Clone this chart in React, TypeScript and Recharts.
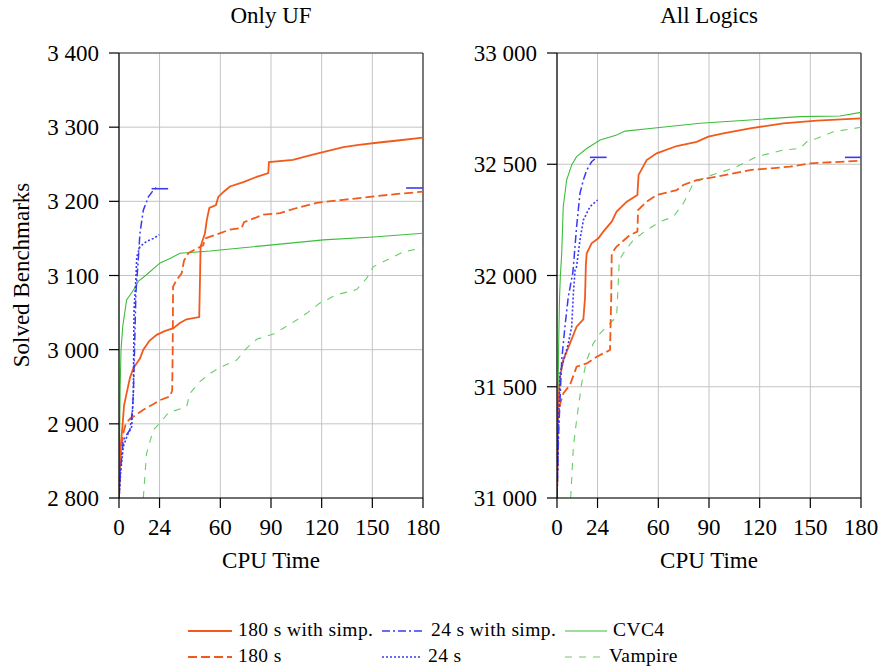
import React from 'react';
import { LineChart, Line, XAxis, YAxis, CartesianGrid, ReferenceLine } from 'recharts';

type Pt = [number, number];

// x ticks shared by both panels
const xTicks = [0, 24, 60, 90, 120, 150, 180];
const ufTicks = [2800, 2900, 3000, 3100, 3200, 3300, 3400];
const allTicks = [31000, 31500, 32000, 32500, 33000];

// ---- Only UF ----
const ufSimp180: Pt[] = [[0, 2800], [1, 2870], [2, 2895], [3, 2925], [4.5, 2941], [6.5, 2962], [8.5, 2975], [10, 2980], [12.4, 2988], [14.4, 3000], [18, 3012], [22.3, 3020], [27, 3025], [32.2, 3029], [36, 3036], [40, 3041], [47.5, 3044], [48, 3100], [48.3, 3139], [50.9, 3157], [52, 3175], [53.5, 3191], [57.4, 3195], [58.8, 3206], [62, 3213], [65.7, 3220], [73.6, 3226], [81.5, 3233], [88.4, 3238], [88.8, 3253], [103, 3256], [113, 3262], [122, 3267], [132.8, 3273], [142, 3276], [152.6, 3279], [165, 3282], [180, 3286]];
const uf180: Pt[] = [[0, 2800], [1, 2860], [2.5, 2887], [4, 2900], [6.5, 2907], [10, 2912], [14.4, 2919], [20, 2926], [24.3, 2932], [30.2, 2937], [31.5, 2945], [31.8, 3000], [32, 3085], [34.1, 3094], [37.1, 3103], [38.5, 3120], [41, 3130], [49.9, 3141], [51, 3150], [57.4, 3155], [65.7, 3162], [72.6, 3164], [74, 3172], [77.6, 3175], [85.5, 3182], [95.3, 3184], [105.2, 3191], [117, 3198], [132.8, 3202], [152.6, 3207], [165, 3210], [180, 3213]];
const ufSimp24: Pt[] = [[0, 2800], [1, 2840], [2.5, 2878], [4.5, 2885], [6.5, 2892], [8, 2920], [8.5, 2941], [9.2, 3000], [10, 3076], [11.4, 3121], [12.4, 3157], [14.4, 3188], [17.4, 3206], [20.3, 3215], [22.3, 3219]];
const uf24: Pt[] = [[0, 2800], [1, 2835], [2.5, 2869], [5, 2885], [7.5, 2896], [8.5, 2941], [8.9, 3053], [10, 3094], [10.5, 3125], [12.4, 3139], [16.3, 3146], [20.3, 3150], [23.9, 3155]];
const ufCvc4: Pt[] = [[0, 2800], [0.3, 2870], [0.7, 2950], [1.2, 3000], [2.2, 3031], [4.5, 3067], [8.5, 3080], [11.4, 3092], [16.3, 3101], [24.3, 3117], [30.2, 3123], [36.1, 3130], [53.9, 3133], [89.4, 3141], [121, 3148], [150.6, 3152], [180, 3157]];
const ufVampire: Pt[] = [[14.4, 2800], [16.3, 2860], [20.3, 2892], [24.3, 2901], [29.2, 2915], [40, 2923], [42, 2941], [47.9, 2957], [53.9, 2968], [59.8, 2976], [69.7, 2986], [75.6, 3002], [81.5, 3014], [91.4, 3021], [97.3, 3029], [105.2, 3040], [111.1, 3049], [119, 3063], [128.9, 3074], [140.7, 3081], [146.6, 3096], [150.6, 3112], [156, 3118], [162.5, 3125], [168.4, 3132], [180, 3137]];
const ufSimp24Mark: Pt[] = [[19.3, 3217], [29.1, 3217]];
const ufSimp24Final: Pt[] = [[170, 3218], [180, 3218]];

// ---- All Logics ----
const allSimp180: Pt[] = [[0, 31000], [0.3, 31200], [0.6, 31395], [1.8, 31545], [3.7, 31620], [7.7, 31695], [11.6, 31770], [15.6, 31803], [16.6, 31900], [17.1, 32050], [17.6, 32100], [20.5, 32145], [24.5, 32167], [27.4, 32197], [32.4, 32242], [35.3, 32287], [41.3, 32332], [47.6, 32362], [48.3, 32452], [53.1, 32519], [59, 32549], [70.9, 32582], [82.7, 32601], [89.6, 32624], [98.5, 32639], [114.3, 32661], [134, 32684], [153.8, 32696], [180, 32706]];
const all180: Pt[] = [[0, 31000], [0.4, 31200], [0.8, 31395], [3.7, 31470], [7.7, 31508], [11.6, 31590], [17.6, 31605], [23.5, 31635], [31.4, 31665], [32.1, 31900], [32.4, 32100], [35.3, 32130], [43.2, 32182], [47.6, 32197], [48, 32294], [53.1, 32332], [59, 32362], [70.9, 32384], [74.8, 32407], [82.7, 32429], [94.5, 32444], [114.3, 32474], [138, 32489], [149.8, 32504], [180, 32516]];
const allSimp24: Pt[] = [[0, 31000], [1, 31300], [2.8, 31620], [4.7, 31770], [6.7, 31905], [9.3, 32010], [9.7, 32040], [11.6, 32219], [13.6, 32369], [15.6, 32429], [17.6, 32474], [20.5, 32511], [23.5, 32531]];
const all24: Pt[] = [[0, 31000], [0.8, 31300], [1.8, 31560], [6.7, 31695], [8.7, 31770], [9.7, 31920], [10.7, 32025], [11.6, 32040], [13.6, 32160], [15.6, 32249], [19.5, 32309], [24, 32339]];
const allCvc4: Pt[] = [[0, 31000], [0.5, 31400], [1, 31700], [1.5, 31900], [2, 32000], [2.8, 32100], [3.7, 32309], [5.7, 32429], [8.7, 32497], [11.6, 32534], [17.6, 32571], [25.5, 32609], [35.3, 32631], [40.3, 32649], [55.1, 32661], [84.7, 32684], [114.3, 32699], [143.9, 32714], [167.6, 32717], [180, 32733]];
const allVampire: Pt[] = [[8.1, 31000], [9.7, 31230], [11.6, 31350], [14.6, 31515], [17.6, 31620], [21.5, 31695], [25.5, 31740], [31.4, 31785], [35.3, 31815], [36.9, 32070], [39.3, 32100], [45.2, 32160], [53.1, 32204], [61, 32242], [68.9, 32264], [74.8, 32324], [80.7, 32414], [88.6, 32444], [104.4, 32482], [118.2, 32534], [134, 32564], [143.9, 32571], [147.9, 32601], [153.8, 32616], [163.6, 32646], [180, 32666]];
const allSimp24Mark: Pt[] = [[19.5, 32531], [29.4, 32531]];
const allSimp24Final: Pt[] = [[170.5, 32531], [180, 32531]];

const FONT = '"Liberation Serif", "DejaVu Serif", serif';
const ORANGE = '#f25a1c';
const BLUE = '#3a3af2';
const GREEN = '#3cbd3c';
const LGREEN = '#66cf66';

const styles = {
  simp180: { stroke: ORANGE, strokeWidth: 1.8 },
  s180: { stroke: ORANGE, strokeWidth: 1.8, strokeDasharray: '9 4' },
  simp24: { stroke: BLUE, strokeWidth: 1.5, strokeDasharray: '8 3 2 3' },
  s24: { stroke: BLUE, strokeWidth: 1.6, strokeDasharray: '2 2' },
  cvc4: { stroke: GREEN, strokeWidth: 1.1 },
  vampire: { stroke: LGREEN, strokeWidth: 1.1, strokeDasharray: '7 7' },
};

const toRows = (pts: Pt[]) => pts.map(([x, y]) => ({ x, y }));
const fmt = (v: number) => {
  const s = String(v);
  return s.slice(0, s.length - 3) + ' ' + s.slice(-3);
};

interface PanelProps {
  left: number;
  width: number;
  yAxisWidth: number;
  domain: [number, number];
  ticks: number[];
  series: { pts: Pt[]; style: any; name: string }[];
}

const Panel: React.FC<PanelProps> = ({ left, width, yAxisWidth, domain, ticks, series }) => {
  const rightMargin = width - yAxisWidth - 304;
  return (
    <div style={{ position: 'absolute', left, top: 0 }}>
      <LineChart width={width} height={545} margin={{ top: 53, right: rightMargin, left: 0, bottom: 17 }}>
        <CartesianGrid stroke="#c4c4c4" strokeWidth={1} />
        <XAxis
          type="number"
          dataKey="x"
          domain={[0, 180]}
          ticks={xTicks}
          allowDataOverflow
          height={30}
          tickSize={10}
          tickMargin={11}
          axisLine={{ stroke: '#000', strokeWidth: 1.2 }}
          tickLine={{ stroke: '#000', strokeWidth: 1.2 }}
          tick={{ fill: '#000', fontSize: 23, fontFamily: FONT }}
          interval={0}
        />
        <YAxis
          type="number"
          domain={domain}
          ticks={ticks}
          allowDataOverflow
          width={yAxisWidth}
          tickSize={10}
          tickMargin={10}
          tickFormatter={fmt}
          axisLine={{ stroke: '#000', strokeWidth: 1.2 }}
          tickLine={{ stroke: '#000', strokeWidth: 1.2 }}
          tick={{ fill: '#000', fontSize: 23, fontFamily: FONT }}
          interval={0}
        />
        <ReferenceLine y={domain[1]} stroke="#444" strokeWidth={1.2} />
        <ReferenceLine x={180} stroke="#333" strokeWidth={1.2} />
        {series.map((s) => (
          <Line
            key={s.name}
            data={toRows(s.pts)}
            dataKey="y"
            type="linear"
            dot={false}
            isAnimationActive={false}
            {...s.style}
          />
        ))}
      </LineChart>
    </div>
  );
};

const markStyle = { stroke: BLUE, strokeWidth: 1.6 };

const LegendItem: React.FC<{ x: number; y: number; len: number; style: any; label: string }> = ({ x, y, len, style, label }) => (
  <g>
    <line x1={x} x2={x + len} y1={y} y2={y} {...style} />
    <text x={x + len + 6} y={y + 5} fontSize={19.5} letterSpacing={0.4} fontFamily={FONT} fill="#000">{label}</text>
  </g>
);

const App: React.FC = () => {
  return (
    <div style={{ position: 'absolute', left: 0, top: 0, width: 883, height: 671, background: '#fff', fontFamily: FONT }}>
      <div style={{ position: 'absolute', left: 119, width: 304, top: 3, textAlign: 'center', fontSize: 23 }}>Only UF</div>
      <div style={{ position: 'absolute', left: 557, width: 304, top: 3, textAlign: 'center', fontSize: 23 }}>All Logics</div>
      <Panel
        left={0}
        width={450}
        yAxisWidth={119}
        domain={[2800, 3400]}
        ticks={ufTicks}
        series={[
          { name: 'cvc4', pts: ufCvc4, style: styles.cvc4 },
          { name: 'vampire', pts: ufVampire, style: styles.vampire },
          { name: 's180', pts: uf180, style: styles.s180 },
          { name: 'simp180', pts: ufSimp180, style: styles.simp180 },
          { name: 's24', pts: uf24, style: styles.s24 },
          { name: 'simp24', pts: ufSimp24, style: styles.simp24 },
          { name: 'mark', pts: ufSimp24Mark, style: markStyle },
          { name: 'final', pts: ufSimp24Final, style: markStyle },
        ]}
      />
      <Panel
        left={440}
        width={443}
        yAxisWidth={117}
        domain={[31000, 33000]}
        ticks={allTicks}
        series={[
          { name: 'cvc4', pts: allCvc4, style: styles.cvc4 },
          { name: 'vampire', pts: allVampire, style: styles.vampire },
          { name: 's180', pts: all180, style: styles.s180 },
          { name: 'simp180', pts: allSimp180, style: styles.simp180 },
          { name: 's24', pts: all24, style: styles.s24 },
          { name: 'simp24', pts: allSimp24, style: styles.simp24 },
          { name: 'mark', pts: allSimp24Mark, style: markStyle },
          { name: 'final', pts: allSimp24Final, style: markStyle },
        ]}
      />
      <div style={{ position: 'absolute', left: 119, width: 304, top: 548, textAlign: 'center', fontSize: 23 }}>CPU Time</div>
      <div style={{ position: 'absolute', left: 557, width: 304, top: 548, textAlign: 'center', fontSize: 23 }}>CPU Time</div>
      <div
        style={{
          position: 'absolute',
          left: 22,
          top: 275,
          fontSize: 23,
          whiteSpace: 'nowrap',
          transform: 'translate(-50%, -50%) rotate(-90deg)',
        }}
      >
        Solved Benchmarks
      </div>
      <svg width={883} height={671} style={{ position: 'absolute', left: 0, top: 0, pointerEvents: 'none' }}>
        <LegendItem x={188} y={631} len={44} style={styles.simp180} label="180 s with simp." />
        <LegendItem x={382} y={631} len={43} style={styles.simp24} label="24 s with simp." />
        <LegendItem x={565} y={631} len={42} style={styles.cvc4} label="CVC4" />
        <LegendItem x={188} y={657} len={44} style={styles.s180} label="180 s" />
        <LegendItem x={382} y={657} len={40} style={styles.s24} label="24 s" />
        <LegendItem x={565} y={657} len={38} style={styles.vampire} label="Vampire" />
      </svg>
    </div>
  );
};

export default App;
